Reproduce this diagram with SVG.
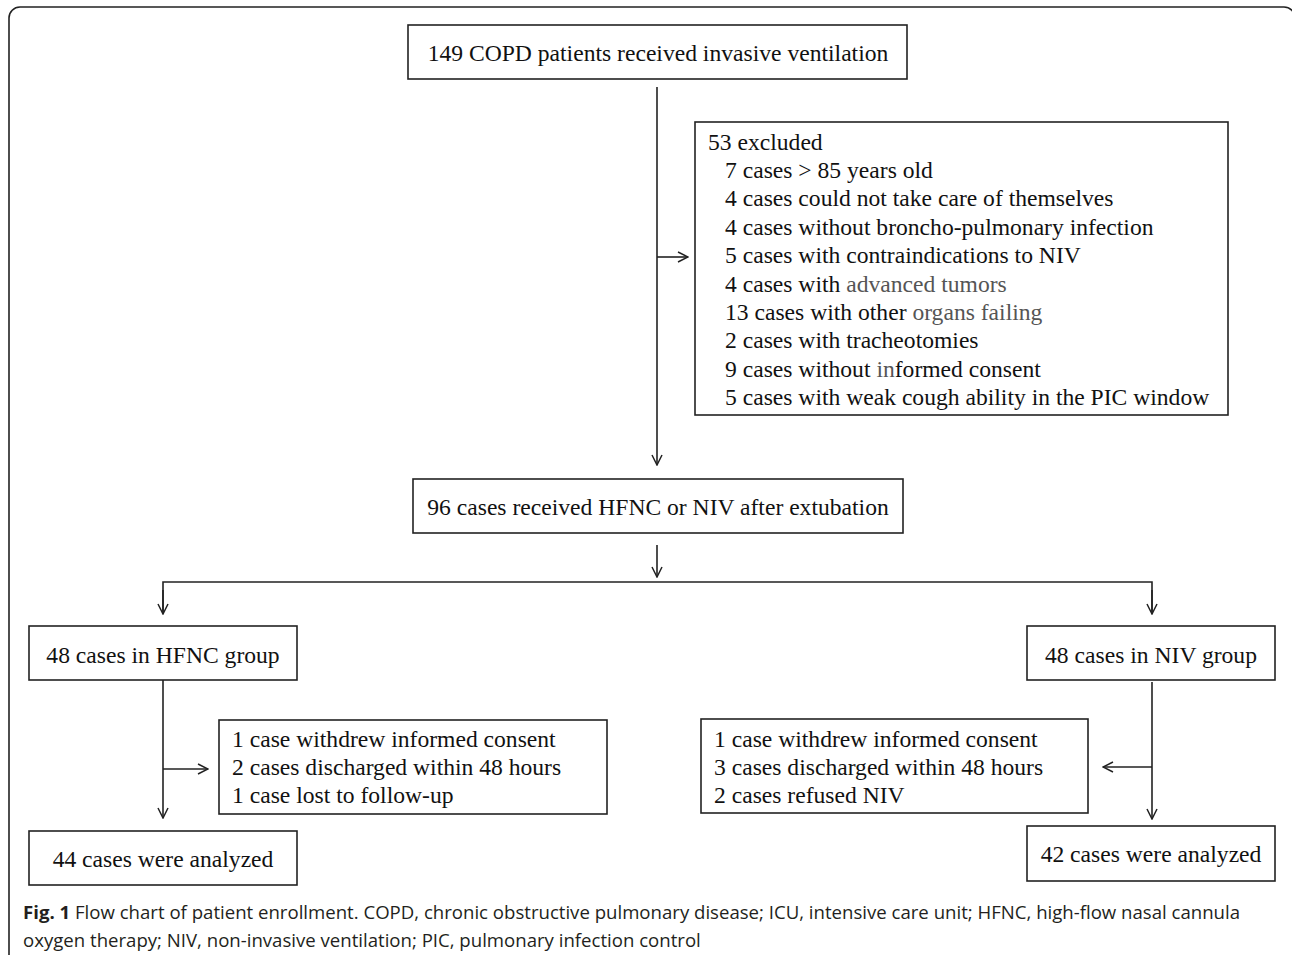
<svg xmlns="http://www.w3.org/2000/svg" width="1292" height="955" viewBox="0 0 1292 955">
<style>
.box{fill:#fff;stroke:#222;stroke-width:1.6}
.t{font-family:"Liberation Serif","Times New Roman",serif;font-size:23.6px;fill:#111}
.c{text-anchor:middle}
.g{fill:#555}
.ln{stroke:#222;stroke-width:1.6;fill:none}
.cap{font-family:"Open Sans","Noto Sans",sans-serif;font-size:18.6px;fill:#231f20}
</style>
<defs>
<marker id="ah" viewBox="0 0 12 12" refX="11" refY="6" markerWidth="12" markerHeight="12" markerUnits="userSpaceOnUse" orient="auto">
<path d="M1,1 L11,6 L1,11" fill="none" stroke="#222" stroke-width="1.5"/>
</marker>
</defs>
<rect x="9" y="7" width="1286" height="970" rx="11" fill="none" stroke="#222" stroke-width="1.6"/>
<g id="connectors">
<line class="ln" x1="657" y1="87" x2="657" y2="465" marker-end="url(#ah)"/>
<line class="ln" x1="657" y1="257" x2="688" y2="257" marker-end="url(#ah)"/>
<line class="ln" x1="657" y1="545" x2="657" y2="577" marker-end="url(#ah)"/>
<polyline class="ln" points="163,614 163,582 1152,582 1152,614"/>
<line class="ln" x1="163" y1="590" x2="163" y2="614" marker-end="url(#ah)"/>
<line class="ln" x1="1152" y1="590" x2="1152" y2="614" marker-end="url(#ah)"/>
<line class="ln" x1="163" y1="680" x2="163" y2="818" marker-end="url(#ah)"/>
<line class="ln" x1="163" y1="769" x2="208" y2="769" marker-end="url(#ah)"/>
<line class="ln" x1="1152" y1="682" x2="1152" y2="819" marker-end="url(#ah)"/>
<line class="ln" x1="1152" y1="767" x2="1103" y2="767" marker-end="url(#ah)"/>
</g>
<g id="n1">
<rect class="box" x="408" y="25" width="499" height="54"/>
<text class="t c" x="658" y="61">149 COPD patients received invasive ventilation</text>
</g>
<g id="excluded">
<rect class="box" x="695" y="122" width="533" height="293"/>
<text class="t" x="708" y="150">53 excluded</text>
<text class="t" x="725" y="178">7 cases &gt; 85 years old</text>
<text class="t" x="725" y="206">4 cases could not take care of themselves</text>
<text class="t" x="725" y="235">4 cases without broncho-pulmonary infection</text>
<text class="t" x="725" y="263">5 cases with contraindications to NIV</text>
<text class="t" x="725" y="292">4 cases with <tspan class="g">advanced tumors</tspan></text>
<text class="t" x="725" y="320">13 cases with other <tspan class="g">organs failing</tspan></text>
<text class="t" x="725" y="348">2 cases with tracheotomies</text>
<text class="t" x="725" y="377">9 cases without <tspan class="g">in</tspan>formed consent</text>
<text class="t" x="725" y="405">5 cases with weak cough ability in the PIC window</text>
</g>
<g id="n2">
<rect class="box" x="413" y="479" width="490" height="54"/>
<text class="t c" x="658" y="515">96 cases received HFNC or NIV after extubation</text>
</g>
<g id="hfnc">
<rect class="box" x="29" y="626" width="268" height="54"/>
<text class="t c" x="163" y="663">48 cases in HFNC group</text>
</g>
<g id="hfnc-ex">
<rect class="box" x="219" y="720" width="388" height="94"/>
<text class="t" x="232" y="747">1 case withdrew informed consent</text>
<text class="t" x="232" y="775">2 cases discharged within 48 hours</text>
<text class="t" x="232" y="803">1 case lost to follow-up</text>
</g>
<g id="hfnc-an">
<rect class="box" x="29" y="831" width="268" height="54"/>
<text class="t c" x="163" y="867">44 cases were analyzed</text>
</g>
<g id="niv">
<rect class="box" x="1027" y="626" width="248" height="54"/>
<text class="t c" x="1151" y="663">48 cases in NIV group</text>
</g>
<g id="niv-ex">
<rect class="box" x="701" y="719" width="387" height="94"/>
<text class="t" x="714" y="747">1 case withdrew informed consent</text>
<text class="t" x="714" y="775">3 cases discharged within 48 hours</text>
<text class="t" x="714" y="803">2 cases refused NIV</text>
</g>
<g id="niv-an">
<rect class="box" x="1027" y="826" width="248" height="55"/>
<text class="t c" x="1151" y="862">42 cases were analyzed</text>
</g>
<g id="caption">
<text class="cap" x="23" y="919"><tspan font-weight="bold">Fig. 1</tspan> Flow chart of patient enrollment. COPD, chronic obstructive pulmonary disease; ICU, intensive care unit; HFNC, high-flow nasal cannula</text>
<text class="cap" x="23" y="947">oxygen therapy; NIV, non-invasive ventilation; PIC, pulmonary infection control</text>
</g>
</svg>
